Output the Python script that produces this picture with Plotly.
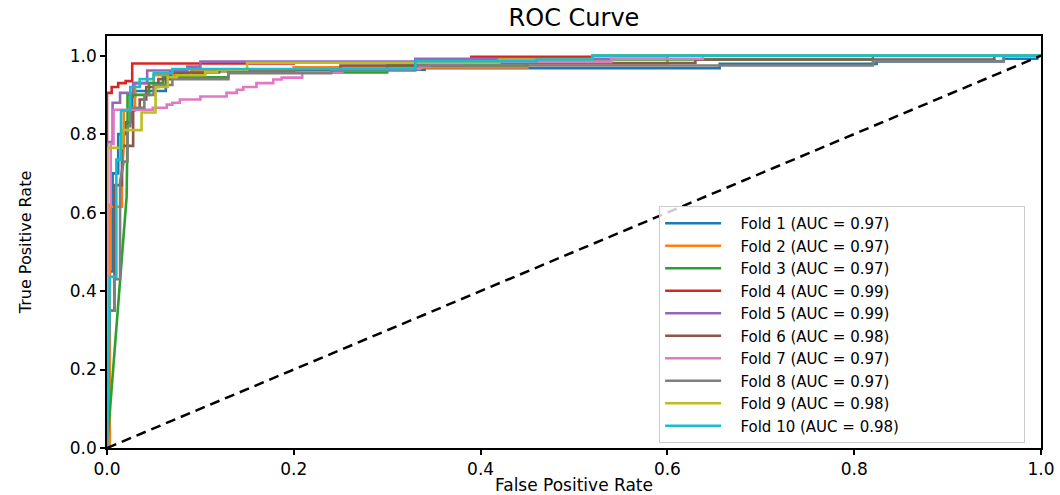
import plotly.graph_objects as go

# ---------------- data ----------------
fold_names = ["Fold 1", "Fold 2", "Fold 3", "Fold 4", "Fold 5",
              "Fold 6", "Fold 7", "Fold 8", "Fold 9", "Fold 10"]
auc_values = [0.97, 0.97, 0.97, 0.99, 0.99, 0.98, 0.97, 0.97, 0.98, 0.98]
fold_colors = ["#1f77b4", "#ff7f0e", "#2ca02c", "#d62728", "#9467bd",
               "#8c564b", "#e377c2", "#7f7f7f", "#bcbd22", "#17becf"]

fold1_fpr = [0, 0.003, 0.006, 0.006, 0.012, 0.012, 0.02, 0.02, 0.027, 0.027, 0.03, 0.03, 0.063, 0.063,
             0.105, 0.105, 0.2, 0.2, 0.34, 0.34, 0.656, 0.656, 0.669, 0.669, 0.824, 0.824, 0.96, 0.96, 0.996, 0.996, 1]
fold1_tpr = [0, 0.45, 0.45, 0.70, 0.70, 0.80, 0.80, 0.83, 0.83, 0.895, 0.895, 0.91, 0.91, 0.955,
             0.955, 0.96, 0.96, 0.964, 0.964, 0.968, 0.968, 0.979, 0.979, 0.979, 0.979, 0.985, 0.985, 0.992, 0.992, 1.0, 1.0]

fold2_fpr = [0, 0.003, 0.003, 0.016, 0.016, 0.018, 0.018, 0.03, 0.03, 0.05, 0.05, 0.09, 0.09,
             0.2, 0.2, 0.45, 0.45, 0.6, 0.6, 1]
fold2_tpr = [0, 0.0, 0.615, 0.615, 0.70, 0.77, 0.86, 0.86, 0.93, 0.93, 0.95, 0.95, 0.96,
             0.96, 0.97, 0.97, 0.98, 0.98, 1.0, 1.0]

fold3_fpr = [0, 0.021, 0.022, 0.022, 0.045, 0.045, 0.06, 0.06, 0.13, 0.13, 0.30, 0.30, 0.45, 0.45,
             0.82, 0.82, 1]
fold3_tpr = [0, 0.64, 0.80, 0.90, 0.90, 0.93, 0.93, 0.945, 0.945, 0.957, 0.957, 0.975, 0.975, 0.99,
             0.99, 1.0, 1.0]

fold4_fpr = [0, 0, 0.005, 0.005, 0.012, 0.012, 0.02, 0.02, 0.027, 0.027, 0.2, 0.2, 0.35, 0.35,
             0.39, 0.39, 0.52, 0.52, 1]
fold4_tpr = [0, 0.905, 0.905, 0.92, 0.92, 0.93, 0.93, 0.935, 0.935, 0.98, 0.98, 0.983, 0.983, 0.99,
             0.99, 0.997, 0.997, 1.0, 1.0]

fold5_fpr = [0, 0, 0.006, 0.006, 0.014, 0.014, 0.028, 0.028, 0.043, 0.043, 0.086, 0.086, 0.1, 0.1,
             0.33, 0.33, 0.6, 0.6, 1]
fold5_tpr = [0, 0.78, 0.78, 0.88, 0.88, 0.905, 0.905, 0.93, 0.93, 0.962, 0.962, 0.972, 0.972, 0.985,
             0.985, 0.992, 0.992, 1.0, 1.0]

fold6_fpr = [0, 0.002, 0.008, 0.008, 0.016, 0.016, 0.028, 0.028, 0.035, 0.035, 0.042, 0.042, 0.055, 0.055,
             0.068, 0.068, 0.12, 0.12, 0.25, 0.25, 0.38, 0.38, 0.63, 0.63, 0.95, 0.95, 1]
fold6_tpr = [0, 0.35, 0.35, 0.67, 0.67, 0.77, 0.77, 0.862, 0.862, 0.888, 0.888, 0.92, 0.92, 0.94,
             0.94, 0.957, 0.957, 0.965, 0.965, 0.975, 0.975, 0.981, 0.981, 0.99, 0.99, 1.0, 1.0]

fold7_fpr = [0, 0.002, 0.004, 0.004, 0.007, 0.007, 0.049, 0.049, 0.064, 0.064, 0.07, 0.07, 0.078, 0.078,
             0.1, 0.1, 0.128, 0.128, 0.139, 0.139, 0.146, 0.146, 0.16, 0.16, 0.178, 0.178, 0.187, 0.187,
             0.209, 0.209, 0.252, 0.252, 0.335, 0.335, 0.345, 0.345, 0.38, 0.38, 0.54, 0.54, 0.638, 0.638, 1]
fold7_tpr = [0, 0.62, 0.62, 0.775, 0.775, 0.862, 0.862, 0.867, 0.867, 0.875, 0.875, 0.88, 0.88, 0.888,
             0.888, 0.896, 0.896, 0.905, 0.905, 0.913, 0.913, 0.92, 0.92, 0.93, 0.93, 0.939, 0.939, 0.944,
             0.944, 0.957, 0.957, 0.966, 0.966, 0.973, 0.973, 0.979, 0.979, 0.984, 0.984, 0.992, 0.992, 1.0, 1.0]

fold8_fpr = [0, 0.003, 0.008, 0.008, 0.014, 0.014, 0.018, 0.022, 0.022, 0.025, 0.025, 0.04, 0.04, 0.05,
             0.05, 0.07, 0.07, 0.13, 0.13, 0.24, 0.24, 0.33, 0.33, 0.82, 0.82, 0.96, 0.96, 1]
fold8_tpr = [0, 0.35, 0.35, 0.43, 0.43, 0.68, 0.73, 0.73, 0.82, 0.82, 0.867, 0.867, 0.90, 0.90,
             0.925, 0.925, 0.94, 0.94, 0.955, 0.955, 0.962, 0.962, 0.975, 0.975, 0.986, 0.986, 1.0, 1.0]

fold9_fpr = [0, 0, 0.016, 0.016, 0.037, 0.037, 0.052, 0.052, 0.065, 0.065, 0.075, 0.075, 0.105, 0.105,
             0.118, 0.118, 0.15, 0.15, 0.42, 0.42, 0.52, 0.52, 1]
fold9_tpr = [0, 0.765, 0.765, 0.81, 0.81, 0.855, 0.855, 0.92, 0.92, 0.945, 0.945, 0.95, 0.95, 0.958,
             0.958, 0.964, 0.964, 0.982, 0.982, 0.99, 0.99, 1.0, 1.0]

fold10_fpr = [0, 0.003, 0.01, 0.01, 0.015, 0.015, 0.025, 0.025, 0.035, 0.035, 0.05, 0.05, 0.07, 0.07,
              0.33, 0.33, 0.46, 0.46, 0.52, 0.52, 1]
fold10_tpr = [0, 0.436, 0.436, 0.735, 0.735, 0.86, 0.86, 0.92, 0.92, 0.94, 0.94, 0.955, 0.955, 0.966,
              0.966, 0.986, 0.986, 0.99, 0.99, 1.0, 1.0]

chance_x = [0, 1]
chance_y = [0, 1]

tick_values = [0.0, 0.2, 0.4, 0.6, 0.8, 1.0]
tick_labels = ["0.0", "0.2", "0.4", "0.6", "0.8", "1.0"]

all_fpr = [fold1_fpr, fold2_fpr, fold3_fpr, fold4_fpr, fold5_fpr,
           fold6_fpr, fold7_fpr, fold8_fpr, fold9_fpr, fold10_fpr]
all_tpr = [fold1_tpr, fold2_tpr, fold3_tpr, fold4_tpr, fold5_tpr,
           fold6_tpr, fold7_tpr, fold8_tpr, fold9_tpr, fold10_tpr]

FONT = "DejaVu Sans"
NB = "\u00a0"  # non-breaking spaces used only to widen the legend box like the reference

fig = go.Figure()
for name, auc, col, fx, ty in zip(fold_names, auc_values, fold_colors, all_fpr, all_tpr):
    fig.add_trace(go.Scatter(
        x=fx, y=ty, mode="lines",
        name=NB * 3 + f"{name} (AUC = {auc:.2f})" + NB * 25,
        line=dict(color=col, width=2.6),
    ))

fig.add_trace(go.Scatter(
    x=chance_x, y=chance_y, mode="lines", showlegend=False,
    line=dict(color="black", width=2.5, dash="10px,6px"),
))

axis_common = dict(
    showgrid=False, zeroline=False,
    showline=True, linecolor="black", linewidth=1.5, mirror=True,
    ticks="outside", ticklen=5, tickwidth=1.5, tickcolor="black",
    tickvals=tick_values, ticktext=tick_labels,
    tickfont=dict(family=FONT, size=17, color="black"),
    automargin=False,
)

fig.update_layout(
    width=1060, height=495,
    margin=dict(l=107, r=19, t=36, b=47),
    paper_bgcolor="white", plot_bgcolor="white",
    title=dict(text="ROC Curve", x=0.5, xref="paper", xanchor="center",
               y=1 - 18 / 495, yref="container", yanchor="middle",
               font=dict(family=FONT, size=24, color="black")),
    xaxis=dict(range=[0, 1], title=dict(text="False Positive Rate", standoff=6,
               font=dict(family=FONT, size=17, color="black")), **axis_common),
    yaxis=dict(range=[0, 1.05], title=dict(text="True Positive Rate", standoff=34,
               font=dict(family=FONT, size=16, color="black")), **axis_common),
    legend=dict(x=0.983, y=0.012, xanchor="right", yanchor="bottom",
                bgcolor="rgba(255,255,255,0.8)", bordercolor="#cccccc", borderwidth=1,
                font=dict(family=FONT, size=15, color="black"),
                itemwidth=56, tracegroupgap=0),
    showlegend=True,
)

fig.write_html("out.html")
